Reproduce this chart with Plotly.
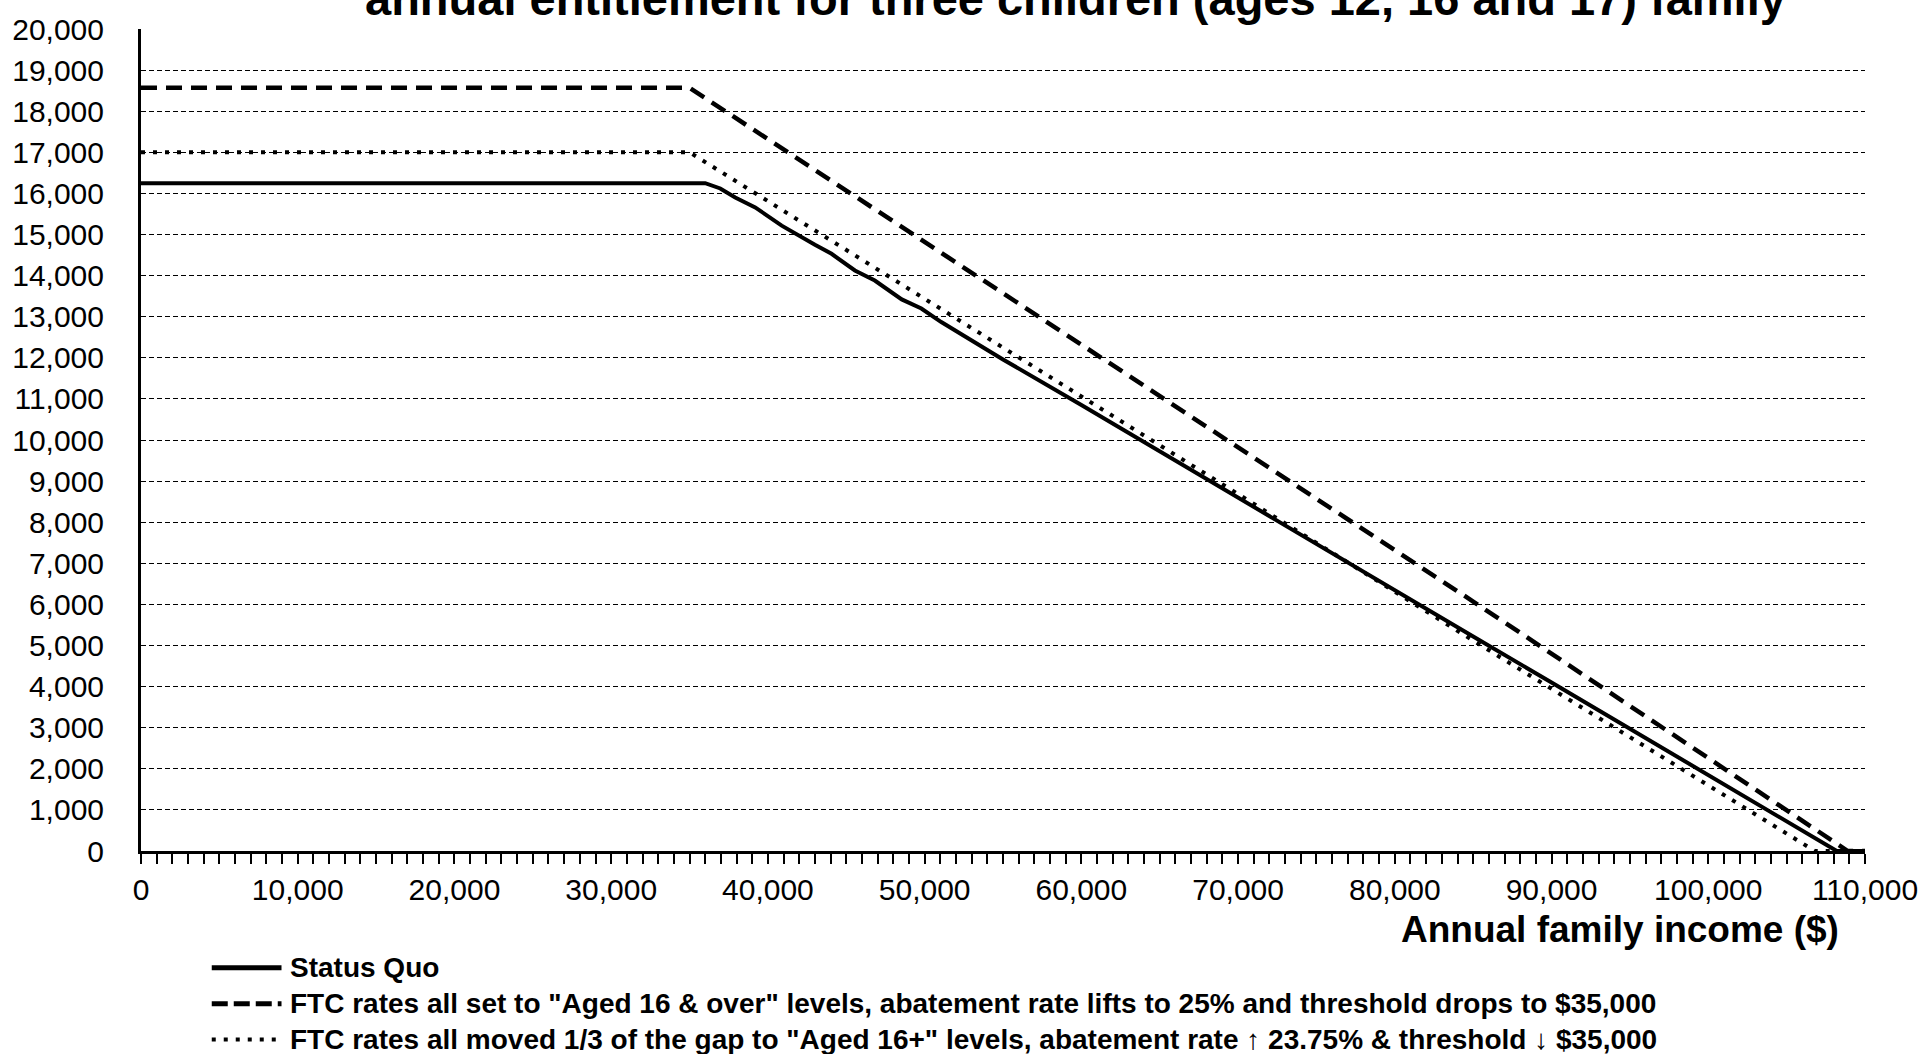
import plotly.graph_objects as go

# ---- data ----
income_sq = [0, 36000, 36960, 37915, 39190, 40880, 43000, 44060, 45550, 46820, 48540,
             49790, 51060, 55000, 60000, 65000, 70000, 75000, 80000, 85000, 90000,
             95000, 100000, 105000, 108200, 110000]
status_quo = [16250, 16250, 16120, 15900, 15660, 15215, 14750, 14530, 14125, 13880, 13420,
              13200, 12870, 11960, 10850, 9720, 8600, 7480, 6350, 5220, 4100,
              2970, 1850, 720, 0, 0]

income_a = [0, 35000, 60000, 85000, 108900, 110000]
option_a = [18570, 18570, 12320, 6070, 0, 0]

income_b = [0, 35000, 60000, 85000, 106800, 110000]
option_b = [17000, 17000, 11060, 5120, 0, 0]

names = [
    "Status Quo",
    "FTC rates all set to \"Aged 16 & over\" levels, abatement rate lifts to 25% and threshold drops to $35,000",
    "FTC rates all moved 1/3 of the gap to \"Aged 16+\" levels, abatement rate \u2191 23.75% & threshold \u2193 $35,000",
]
title_text = "annual entitlement for three children (ages 12, 16 and 17) family"
x_title = "Annual family income ($)"

FONT = "Liberation Sans, Arial, sans-serif"
W, H = 1930, 1054
L, R, T, B = 137, 1867, 27, 851   # plot area in pixels

def px(xp):
    return (xp - L) / (R - L)

def py(yp):
    return (B - yp) / (B - T)

styles = [
    dict(color="black", width=4, dash="solid"),
    dict(color="black", width=4.5, dash="16px,9px"),
    dict(color="black", width=4, dash="4px,8px"),
]

fig = go.Figure()
for xs, ys, nm, st in [(income_sq, status_quo, names[0], styles[0]),
                       (income_a, option_a, names[1], styles[1]),
                       (income_b, option_b, names[2], styles[2])]:
    fig.add_trace(go.Scatter(x=xs, y=ys, mode="lines", name=nm, line=st, showlegend=False))

# custom legend
leg_y = [968, 1004, 1040]
leg_styles = [
    dict(color="black", width=5, dash="solid"),
    dict(color="black", width=5, dash="16px,6px"),
    dict(color="black", width=4, dash="4px,8px"),
]
for yy, nm, st in zip(leg_y, names, leg_styles):
    fig.add_shape(type="line", xref="paper", yref="paper",
                  x0=px(208), x1=px(278), y0=py(yy), y1=py(yy), line=st)
    fig.add_annotation(xref="paper", yref="paper", x=px(285), y=py(yy),
                       xanchor="left", yanchor="middle", showarrow=False,
                       text="<b>" + nm + "</b>", font=dict(family=FONT, size=28, color="black"))

# title (top line cut off in the reference)
fig.add_annotation(xref="paper", yref="paper", x=px(1075), y=py(25),
                   xanchor="center", yanchor="bottom", showarrow=False,
                   text="<b>" + title_text + "</b>", font=dict(family=FONT, size=47, color="black"))

# x axis title
fig.add_annotation(xref="paper", yref="paper", x=px(1843), y=py(930),
                   xanchor="right", yanchor="middle", showarrow=False,
                   text="<b>" + x_title + "</b>", font=dict(family=FONT, size=37, color="black"))

fig.update_layout(
    width=W, height=H,
    margin=dict(l=L, r=W - R, t=T, b=H - B),
    paper_bgcolor="white", plot_bgcolor="white",
    font=dict(family=FONT, color="black"),
    showlegend=False,
)
fig.update_xaxes(
    range=[0, 110000], dtick=10000, tickformat=",",
    tickfont=dict(family=FONT, size=30, color="black"),
    showgrid=False, zeroline=False,
    showline=True, linecolor="black", linewidth=3,
    ticks="outside", ticklen=10, tickwidth=2, tickcolor="black",
    minor=dict(dtick=1000, ticks="outside", ticklen=10, tickwidth=2, tickcolor="black", showgrid=False),
    ticklabelstandoff=0,
)
fig.update_yaxes(
    range=[0, 20000], dtick=1000, tickformat=",",
    tickfont=dict(family=FONT, size=30, color="black"),
    showgrid=True, gridcolor="black", gridwidth=1, griddash="5px,3px",
    zeroline=False,
    showline=True, linecolor="black", linewidth=3,
    ticks="", ticklabelstandoff=28,
)

fig.write_html("out.html")
